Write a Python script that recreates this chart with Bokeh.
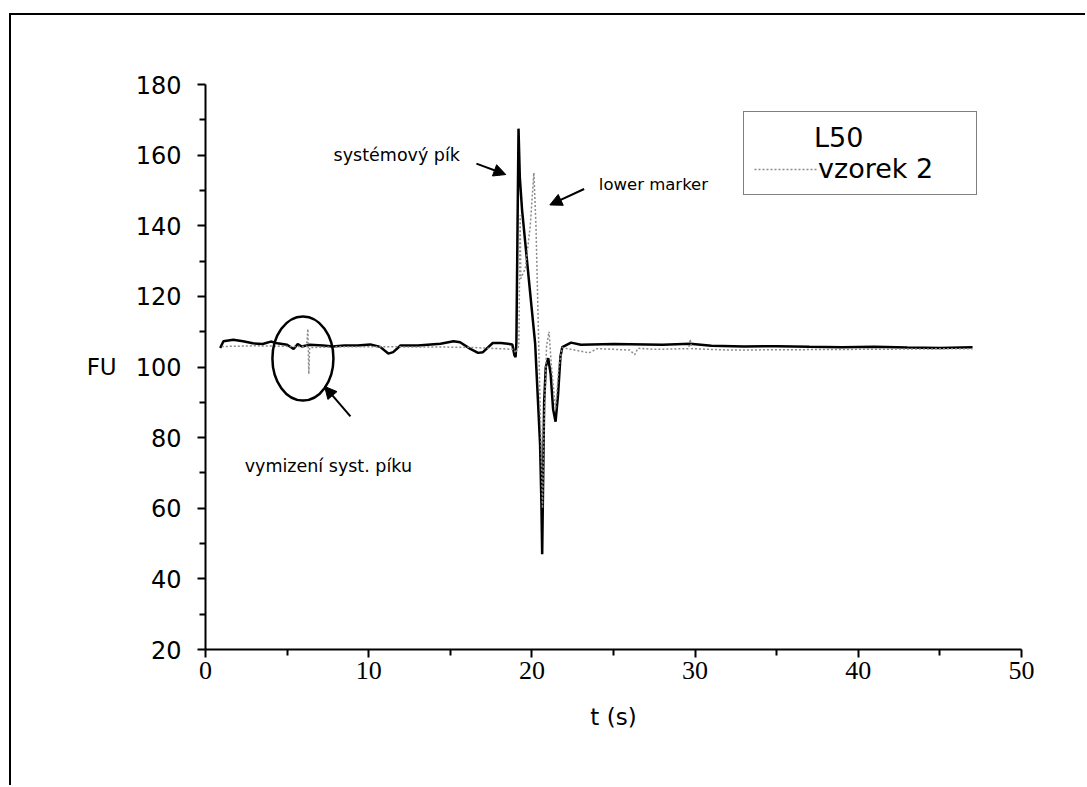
from bokeh.plotting import figure
from bokeh.models import Arrow, NormalHead, Label, Legend, LegendItem, FixedTicker
from bokeh.embed import file_html
from bokeh.resources import INLINE

# ---- data ----
main_t = [0.9, 1.1, 1.7, 2.3, 2.9, 3.5, 4.0, 4.4, 5.0, 5.4, 5.65, 5.9, 6.4, 7.2, 7.8, 8.5,
          9.3, 10.1, 10.7, 11.2, 11.5, 11.95, 13.0, 14.4, 15.2, 15.6, 16.2, 16.7, 17.0, 17.6,
          18.1, 18.8, 18.93, 19.0, 19.05, 19.12, 19.18, 19.26, 19.4, 19.45, 19.6, 19.8, 20.0,
          20.1, 20.2, 20.3, 20.4, 20.5, 20.58, 20.63, 20.68, 20.75, 20.85, 21.0, 21.15, 21.3,
          21.45, 21.6, 21.75, 21.86, 22.4, 23.0, 25.0, 28.0, 29.7, 31.0, 33.0, 35.0, 37.0,
          39.0, 41.0, 43.0, 45.0, 47.0]
main_fu = [105.4, 107.3, 107.7, 107.3, 106.7, 106.5, 107.2, 106.7, 106.3, 105.1, 106.5, 105.8,
           106.3, 106.1, 105.8, 106.1, 106.1, 106.4, 105.7, 103.8, 104.2, 106.1, 106.1, 106.6,
           107.3, 107.0, 105.2, 104.0, 104.2, 106.8, 106.8, 106.4, 103.3, 102.8, 107.0, 140.0,
           167.5, 153.7, 144.3, 142.0, 134.9, 125.4, 116.0, 111.3, 106.6, 97.1, 87.7, 78.2,
           62.0, 47.0, 65.0, 90.0, 100.0, 102.5, 98.0, 88.0, 84.5, 92.0, 103.0, 105.6, 106.9,
           106.3, 106.5, 106.3, 106.6, 106.0, 105.8, 105.9, 105.7, 105.6, 105.7, 105.5, 105.4,
           105.6]

vz2_t = [1.0, 3.0, 5.5, 6.2, 6.27, 6.3, 6.33, 6.38, 8.0, 12.0, 16.0, 18.9, 19.0, 19.2, 19.28,
         19.32, 19.6, 19.9, 20.12, 20.25, 20.4, 20.55, 20.65, 20.75, 20.9, 21.05, 21.2, 21.45,
         21.65, 21.85, 23.5, 24.0, 26.0, 26.3, 26.5, 27.5, 29.6, 29.7, 29.8, 32.0, 40.0, 47.0]
vz2_fu = [105.8, 106.0, 105.8, 105.8, 110.8, 105.0, 98.0, 105.5, 105.7, 105.7, 105.6, 105.0,
          104.0, 106.0, 143.0, 125.0, 128.0, 140.0, 155.0, 140.0, 110.0, 80.0, 60.0, 85.0,
          106.0, 110.0, 100.0, 88.0, 100.0, 105.5, 104.0, 105.2, 104.8, 103.5, 105.3, 105.0,
          105.2, 107.8, 105.2, 104.8, 105.0, 105.2]

x_ticks = [0, 10, 20, 30, 40, 50]
x_minor = [5, 15, 25, 35, 45]
y_ticks = [20, 40, 60, 80, 100, 120, 140, 160, 180]
y_minor = [30, 50, 70, 90, 110, 130, 150, 170]

# annotations (data coordinates)
note_texts = ["systémový pík", "lower marker", "vymizení syst. píku"]
note_x = [7.85, 24.1, 2.4]
note_y = [159.9, 151.6, 72.1]
note_size = ["17.5px", "16.5px", "17.5px"]
arrow_x0 = [16.6, 23.2, 8.88]
arrow_y0 = [157.6, 150.4, 86.0]
arrow_x1 = [18.4, 21.1, 7.3]
arrow_y1 = [154.5, 145.9, 94.5]
ell_x, ell_y, ell_w, ell_h = [5.97], [102.4], [3.74], [23.8]

FONT = "DejaVu Sans"

p = figure(width=1076, height=772, x_range=(0, 50), y_range=(20, 180),
           output_backend="svg", toolbar_location=None,
           min_border_left=194, min_border_right=66, min_border_top=69, min_border_bottom=138)
p.styles = {"margin-left": "9px", "margin-top": "13px",
            "border-left": "2px solid black", "border-top": "2px solid black"}
p.xgrid.visible = False
p.ygrid.visible = False
p.outline_line_color = None
p.background_fill_color = "white"
p.border_fill_color = "white"

r_main = p.line(main_t, main_fu, line_color="black", line_width=2.5)
r_vz2 = p.line(vz2_t, vz2_fu, line_color="#8a8a8a", line_width=1.5, line_dash="2 2")

p.ellipse(x=ell_x, y=ell_y, width=ell_w, height=ell_h, fill_color=None,
          line_color="black", line_width=2.5)

for i in range(len(note_texts)):
    p.add_layout(Label(x=note_x[i], y=note_y[i], text=note_texts[i], text_font=FONT,
                       text_font_size=note_size[i], text_baseline="middle", text_color="black"))
    p.add_layout(Arrow(x_start=arrow_x0[i], y_start=arrow_y0[i], x_end=arrow_x1[i], y_end=arrow_y1[i],
                       line_width=2, line_color="black",
                       end=NormalHead(size=12, fill_color="black", line_color="black")))

for ax in (p.xaxis[0], p.yaxis[0]):
    ax.axis_line_width = 2
    ax.axis_line_color = "black"
    ax.major_tick_line_width = 2
    ax.minor_tick_line_width = 2
    ax.major_tick_in = 0
    ax.minor_tick_in = 0
    ax.major_tick_out = 8
    ax.minor_tick_out = 6
    ax.axis_label_text_font = FONT
    ax.axis_label_text_font_style = "normal"
    ax.axis_label_text_font_size = "23px"
    ax.axis_label_text_color = "black"
    ax.major_label_text_color = "black"

p.xaxis[0].ticker = FixedTicker(ticks=x_ticks, minor_ticks=x_minor)
p.yaxis[0].ticker = FixedTicker(ticks=y_ticks, minor_ticks=y_minor)

p.xaxis.axis_label = "t (s)"
p.xaxis.major_label_text_font = "Liberation Sans Narrow"
p.xaxis.major_label_text_font_size = "26px"
p.xaxis.major_label_standoff = 4
p.xaxis.axis_label_standoff = 22

p.yaxis.axis_label = "FU"
p.yaxis.axis_label_orientation = "horizontal"
p.yaxis.major_label_text_font = FONT
p.yaxis.major_label_text_font_size = "24px"
p.yaxis.major_label_standoff = 16
p.yaxis.axis_label_standoff = 16

legend = Legend(items=[LegendItem(label="vzorek 2", renderers=[r_vz2])],
                location=(538, 454), title="\u00a0" * 7 + "L50")
legend.title_text_font = FONT
legend.title_text_font_size = "27px"
legend.title_text_font_style = "normal"
legend.title_text_color = "black"
legend.title_standoff = 0
legend.label_text_font = FONT
legend.label_text_font_size = "27px"
legend.label_text_color = "black"
legend.label_width = 148
legend.glyph_width = 64
legend.label_standoff = 0
legend.padding = 10
legend.border_line_color = "black"
legend.border_line_width = 1.5
legend.background_fill_alpha = 1
legend.margin = 0
p.add_layout(legend)

open("out.html", "w").write(file_html(p, INLINE))
